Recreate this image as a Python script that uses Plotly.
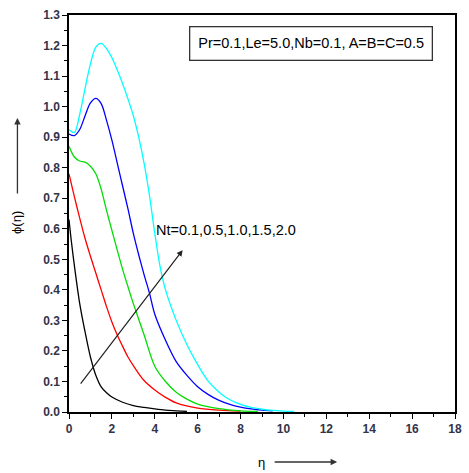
import plotly.graph_objects as go

# Data (eta, phi) for Nt = 0.1, 0.5, 1.0, 1.5, 2.0
eta_nt01 = [0, 0.1, 0.25, 0.5, 0.75, 1.0, 1.25, 1.5, 1.75, 2.0, 2.5, 3.0, 3.5, 4.0, 4.5, 5.0, 5.5]
phi_nt01 = [0.63, 0.565, 0.48, 0.355, 0.262, 0.18, 0.12, 0.082, 0.063, 0.049, 0.032, 0.021, 0.015, 0.01, 0.006, 0.004, 0.002]

eta_nt05 = [0, 0.25, 0.5, 0.75, 1.0, 1.25, 1.5, 1.75, 2.0, 2.25, 2.5, 2.75, 3.0, 3.5, 4.0, 4.5, 5.0, 6.0, 7.0, 8.0]
phi_nt05 = [0.78, 0.705, 0.635, 0.568, 0.51, 0.455, 0.40, 0.345, 0.295, 0.252, 0.215, 0.18, 0.152, 0.103, 0.072, 0.048, 0.03, 0.013, 0.006, 0.003]

eta_nt10 = [0, 0.25, 0.5, 0.75, 1.0, 1.25, 1.5, 1.75, 2.0, 2.25, 2.5, 2.75, 3.0, 3.5, 4.0, 4.5, 5.0, 5.5, 6.0, 7.0, 8.0, 8.8]
phi_nt10 = [0.87, 0.835, 0.822, 0.818, 0.805, 0.78, 0.73, 0.66, 0.595, 0.53, 0.467, 0.41, 0.355, 0.253, 0.15, 0.10, 0.065, 0.042, 0.026, 0.011, 0.004, 0.002]

eta_nt15 = [0, 0.25, 0.5, 0.75, 1.0, 1.25, 1.5, 1.75, 2.0, 2.25, 2.5, 2.75, 3.0, 3.25, 3.5, 3.75, 4.0, 4.5, 5.0, 5.5, 6.0, 6.5, 7.0, 7.5, 8.0, 8.5, 9.0, 9.5]
phi_nt15 = [0.91, 0.905, 0.925, 0.97, 1.012, 1.027, 1.01, 0.955, 0.89, 0.815, 0.74, 0.665, 0.585, 0.515, 0.45, 0.39, 0.32, 0.235, 0.165, 0.12, 0.083, 0.057, 0.038, 0.025, 0.016, 0.01, 0.006, 0.004]

eta_nt20 = [0, 0.25, 0.5, 0.75, 1.0, 1.25, 1.5, 1.75, 2.0, 2.25, 2.5, 2.75, 3.0, 3.25, 3.5, 3.75, 4.0, 4.25, 4.5, 5.0, 5.5, 6.0, 6.5, 7.0, 7.5, 8.0, 8.5, 9.0, 9.5, 10.0, 10.5]
phi_nt20 = [0.925, 0.915, 0.975, 1.06, 1.14, 1.195, 1.207, 1.19, 1.16, 1.12, 1.075, 1.025, 0.97, 0.9, 0.815, 0.71, 0.585, 0.475, 0.40, 0.30, 0.22, 0.155, 0.10, 0.065, 0.04, 0.025, 0.015, 0.009, 0.005, 0.003, 0.002]

series = [
    (eta_nt01, phi_nt01, "#000000"),
    (eta_nt05, phi_nt05, "#ff0000"),
    (eta_nt10, phi_nt10, "#00dd00"),
    (eta_nt15, phi_nt15, "#0000ff"),
    (eta_nt20, phi_nt20, "#00ffff"),
]

x_ticks = list(range(0, 19, 2))
y_ticks = [round(0.1 * i, 1) for i in range(14)]

FONT = "Liberation Sans, Arial, sans-serif"

fig = go.Figure()
for xs, ys, c in series:
    fig.add_trace(go.Scatter(x=xs, y=ys, mode="lines",
                             line=dict(color=c, width=1.3, shape="spline", smoothing=0.9),
                             showlegend=False, hoverinfo="skip"))

axis_common = dict(showgrid=False, zeroline=False, showline=True, linecolor="#000",
                   linewidth=1.5, mirror=True, ticks="outside", tickcolor="#000",
                   ticklen=5, tickwidth=1.2,
                   tickfont=dict(family=FONT, size=12, color="#33334a", weight="bold"))

fig.update_xaxes(range=[0, 18], tickvals=x_ticks,
                 minor=dict(dtick=1, ticks="outside", ticklen=3, tickcolor="#000", tickwidth=1),
                 **axis_common)
fig.update_yaxes(range=[0, 1.3], tickvals=y_ticks, tickformat=".1f",
                 minor=dict(dtick=0.05, ticks="outside", ticklen=3, tickcolor="#000", tickwidth=1),
                 **axis_common)

W, H = 469, 473
L, R, T, B = 69, 7, 15, 61
pw, ph = W - L - R, H - T - B

def px(x):
    return (x - L) / pw

def py(y):
    return (H - B - y) / ph

annotations = [
    # parameter box
    dict(xref="paper", yref="paper", x=px(315), y=py(43), xanchor="center", yanchor="middle",
         showarrow=False, text="Pr=0.1,Le=5.0,Nb=0.1, A=B=C=0.5",
         font=dict(family=FONT, size=14.5, color="#000"),
         bordercolor="#333", borderwidth=1.3, borderpad=8, bgcolor="#fff"),
    # Nt label
    dict(xref="paper", yref="paper", x=px(156), y=py(230), xanchor="left", yanchor="middle",
         showarrow=False, text="Nt=0.1,0.5,1.0,1.5,2.0",
         font=dict(family=FONT, size=14.5, color="#000")),
    # increasing-Nt arrow
    dict(xref="x", yref="y", axref="x", ayref="y", x=5.3, y=0.53, ax=0.49, ay=0.088,
         showarrow=True, arrowhead=2, arrowsize=1, arrowwidth=1.2, arrowcolor="#222", text=""),
    # y-axis label and arrow
    dict(xref="paper", yref="paper", x=px(15), y=py(222), xanchor="center", yanchor="middle",
         showarrow=False, textangle=-90, text="ϕ(η)",
         font=dict(family=FONT, size=13, color="#000")),
    dict(xref="paper", yref="paper", x=px(16.5), y=py(118), ax=0, ay=77,
         showarrow=True, arrowhead=2, arrowsize=1, arrowwidth=1.3, arrowcolor="#333", text=""),
    # x-axis label and arrow
    dict(xref="paper", yref="paper", x=px(265), y=py(462), xanchor="center", yanchor="middle",
         showarrow=False, text="η", font=dict(family=FONT, size=13, color="#000")),
    dict(xref="paper", yref="paper", x=px(342), y=py(462), ax=-64, ay=0,
         showarrow=True, arrowhead=2, arrowsize=1, arrowwidth=1.3, arrowcolor="#333", text=""),
]

fig.update_layout(width=W, height=H, margin=dict(l=L, r=R, t=T, b=B),
                  paper_bgcolor="#fff", plot_bgcolor="#fff",
                  annotations=annotations, showlegend=False)

fig.write_html("out.html")
